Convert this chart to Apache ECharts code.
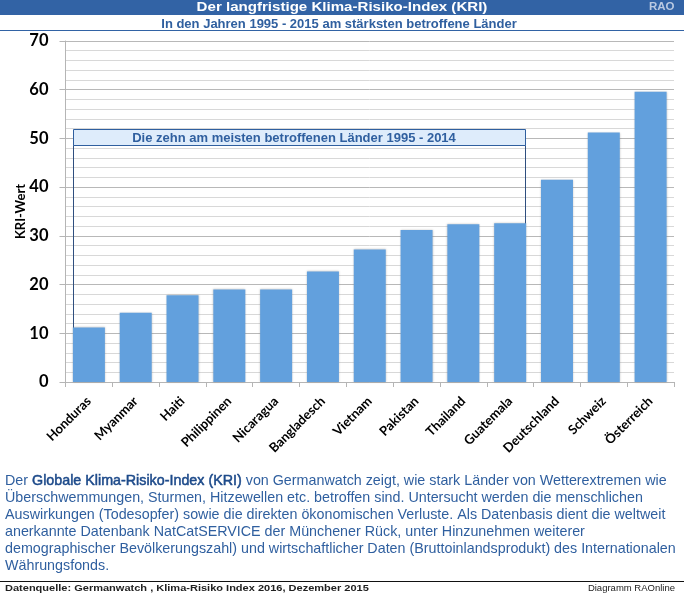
<!DOCTYPE html>
<html>
<head>
<meta charset="utf-8">
<style>html,body{margin:0;padding:0;background:#fff}#main{width:684px;height:594px}</style>
<script src="https://cdn.jsdelivr.net/npm/echarts@6/dist/echarts.min.js"></script>
</head>
<body>
<div id="main"></div>
<script>
const countries = ['Honduras', 'Myanmar', 'Haiti', 'Philippinen', 'Nicaragua', 'Bangladesch', 'Vietnam',
  'Pakistan', 'Thailand', 'Guatemala', 'Deutschland', 'Schweiz', 'Österreich'];
const kriValues = [11.2, 14.2, 17.8, 19, 19, 22.7, 27.2, 31.2, 32.4, 32.6, 41.5, 51.2, 59.6];

const blue = '#2f5f9f';
const arial = '"Liberation Sans", Arial, sans-serif';
const bodyLines = [
  'Der {b|Globale Klima-Risiko-Index (KRI)} von Germanwatch zeigt, wie stark Länder von Wetterextremen wie',
  'Überschwemmungen, Sturmen, Hitzewellen etc. betroffen sind. Untersucht werden die menschlichen',
  'Auswirkungen (Todesopfer) sowie die direkten ökonomischen Verluste. Als Datenbasis dient die weltweit',
  'anerkannte Datenbank NatCatSERVICE der Münchener Rück, unter Hinzunehmen weiterer',
  'demographischer Bevölkerungszahl) und wirtschaftlicher Daten (Bruttoinlandsprodukt) des Internationalen',
  'Währungsfonds.'
];

const myChart = echarts.init(document.getElementById('main'));
myChart.setOption({
  animation: false,
  backgroundColor: '#fff',
  grid: {left: 65.5, right: 10, top: 41, bottom: 212},
  xAxis: {
    type: 'category',
    data: countries,
    axisLine: {lineStyle: {color: '#b5b5b5'}},
    axisTick: {show: true, length: 5, lineStyle: {color: '#b5b5b5'}},
    axisLabel: {rotate: 45, interval: 0, margin: 17, color: '#000',
      fontFamily: 'Lato', fontWeight: 'bold', fontSize: 13}
  },
  yAxis: {
    type: 'value',
    min: 0,
    max: 70,
    interval: 10,
    name: 'KRI-Wert',
    nameLocation: 'middle',
    nameGap: 38,
    nameMoveOverlap: false,
    nameTextStyle: {color: '#000', fontFamily: 'Lato', fontWeight: 'bold', fontSize: 13},
    axisLine: {show: true, lineStyle: {color: '#b5b5b5'}},
    axisTick: {show: true, length: 6, lineStyle: {color: '#b5b5b5'}},
    axisLabel: {color: '#000', fontFamily: 'Lato', fontWeight: 'bold', fontSize: 16.5, margin: 17},
    splitLine: {lineStyle: {color: '#b8b8b8'}},
    minorTick: {show: false, splitNumber: 5},
    minorSplitLine: {show: true, lineStyle: {color: '#d8d8d8'}}
  },
  series: [{
    type: 'bar',
    data: kriValues,
    barWidth: 32,
    itemStyle: {color: '#62a0dd', shadowColor: 'rgba(120,120,120,0.4)', shadowBlur: 2}
  }],
  graphic: [
    {type: 'rect', shape: {x: 0, y: 0, width: 684, height: 15}, style: {fill: '#3263a5'}, silent: true},
    {type: 'text', x: 342, y: 7, scaleX: 1.16, style: {text: 'Der langfristige Klima-Risiko-Index (KRI)', fill: '#fff',
      font: 'bold 13px ' + arial, align: 'center', verticalAlign: 'middle'}},
    {type: 'text', x: 649, y: 7, style: {text: 'RAO', fill: '#b9c9e2',
      font: 'bold 11.5px ' + arial, align: 'left', verticalAlign: 'middle'}},
    {type: 'text', x: 339, y: 24, style: {text: 'In den Jahren 1995 - 2015 am stärksten betroffene Länder', fill: blue,
      font: 'bold 13px ' + arial, align: 'center', verticalAlign: 'middle'}},
    {type: 'line', shape: {x1: 0, y1: 30.5, x2: 684, y2: 30.5}, style: {stroke: '#3263a5', lineWidth: 1}},
    // Rahmen um die zehn Laender, liegt hinter den Balken
    {type: 'polyline', z: 1, shape: {points: [[73.5, 330], [73.5, 145.5], [525.5, 145.5], [525.5, 225]]},
      style: {fill: 'none', stroke: '#2f4f7f', lineWidth: 1}},
    {type: 'rect', z: 3, shape: {x: 73.5, y: 129.5, width: 452, height: 16},
      style: {fill: '#deecfb', stroke: '#2f5f9f', lineWidth: 1}},
    {type: 'text', z: 4, x: 294, y: 138, style: {text: 'Die zehn am meisten betroffenen Länder 1995 - 2014', fill: blue,
      font: 'bold 13px ' + arial, align: 'center', verticalAlign: 'middle'}},
    {type: 'text', x: 5, y: 473, style: {
      text: bodyLines.join('\n'),
      fill: blue,
      font: '14.3px ' + arial,
      lineHeight: 16.9,
      rich: {b: {fill: '#1d4a8a', stroke: '#1d4a8a', lineWidth: 0.5, font: '14.3px ' + arial, lineHeight: 16.9}}
    }},
    {type: 'line', shape: {x1: 0, y1: 581.5, x2: 684, y2: 581.5}, style: {stroke: '#111', lineWidth: 1}},
    {type: 'text', x: 5, y: 588, scaleX: 1.16, style: {text: 'Datenquelle: Germanwatch , Klima-Risiko Index 2016, Dezember 2015', fill: '#222',
      font: 'bold 9.5px ' + arial, align: 'left', verticalAlign: 'middle'}},
    {type: 'text', x: 675, y: 588, style: {text: 'Diagramm RAOnline', fill: '#222',
      font: '9.5px ' + arial, align: 'right', verticalAlign: 'middle'}}
  ]
});
</script>
</body>
</html>
